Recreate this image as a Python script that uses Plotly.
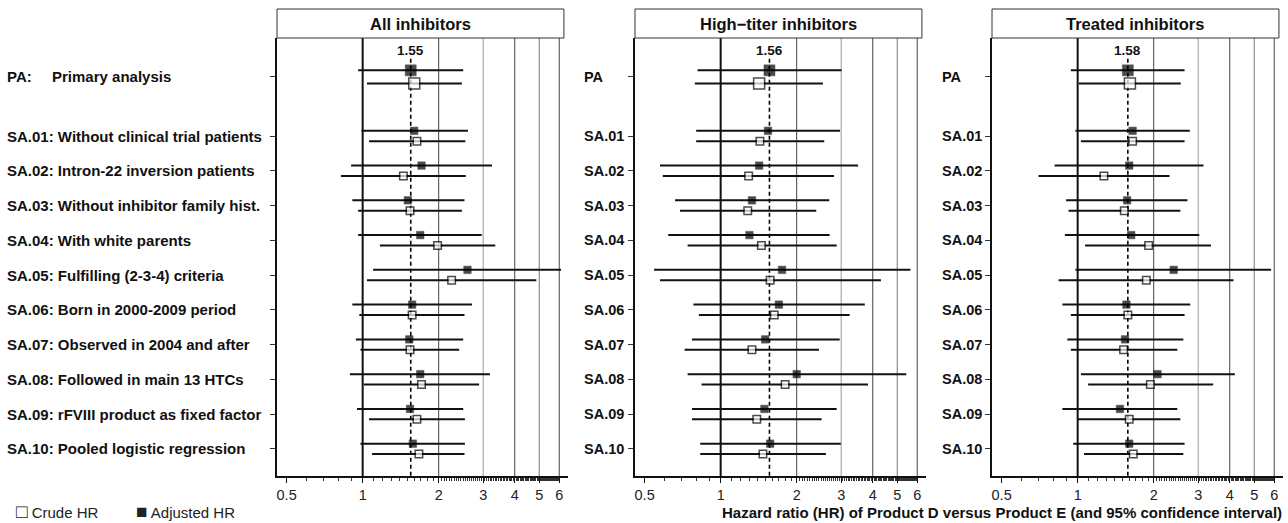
import math
import plotly.graph_objects as go

# ---------------- data ----------------
row_codes = ["PA", "SA.01", "SA.02", "SA.03", "SA.04", "SA.05",
             "SA.06", "SA.07", "SA.08", "SA.09", "SA.10"]
row_texts = ["Primary analysis", "Without clinical trial patients",
             "Intron-22 inversion patients", "Without inhibitor family hist.",
             "With white parents", "Fulfilling (2-3-4) criteria",
             "Born in 2000-2009 period", "Observed in 2004 and after",
             "Followed in main 13 HTCs", "rFVIII product as fixed factor",
             "Pooled logistic regression"]
panel_titles = ["All inhibitors", "High\u2212titer inhibitors", "Treated inhibitors"]
ref_values = [1.55, 1.56, 1.58]

all_adj = [1.55, 1.60, 1.71, 1.51, 1.69, 2.60, 1.57, 1.53, 1.69, 1.54, 1.58]
all_adj_lo = [0.96, 0.99, 0.90, 0.91, 0.96, 1.10, 0.91, 0.94, 0.89, 0.95, 0.98]
all_adj_hi = [2.50, 2.61, 3.25, 2.53, 2.96, 6.10, 2.71, 2.50, 3.19, 2.50, 2.54]
all_crude = [1.60, 1.64, 1.45, 1.54, 1.98, 2.25, 1.57, 1.54, 1.71, 1.64, 1.67]
all_crude_lo = [1.04, 1.06, 0.82, 0.96, 1.17, 1.04, 0.97, 0.98, 1.01, 1.06, 1.09]
all_crude_hi = [2.47, 2.55, 2.56, 2.47, 3.35, 4.87, 2.53, 2.41, 2.89, 2.54, 2.53]

high_adj = [1.56, 1.54, 1.42, 1.33, 1.30, 1.75, 1.70, 1.50, 2.00, 1.49, 1.57]
high_adj_lo = [0.81, 0.80, 0.575, 0.66, 0.62, 0.545, 0.78, 0.77, 0.74, 0.77, 0.83]
high_adj_hi = [3.01, 2.97, 3.50, 2.69, 2.70, 5.64, 3.72, 2.96, 5.43, 2.88, 2.99]
high_crude = [1.42, 1.43, 1.29, 1.28, 1.45, 1.57, 1.63, 1.33, 1.80, 1.39, 1.47]
high_crude_lo = [0.79, 0.80, 0.59, 0.69, 0.74, 0.575, 0.82, 0.72, 0.84, 0.77, 0.83]
high_crude_hi = [2.54, 2.57, 2.81, 2.39, 2.88, 4.31, 3.24, 2.45, 3.83, 2.51, 2.61]

treated_adj = [1.58, 1.65, 1.60, 1.57, 1.63, 2.40, 1.56, 1.54, 2.07, 1.47, 1.60]
treated_adj_lo = [0.94, 0.98, 0.81, 0.90, 0.89, 0.98, 0.87, 0.91, 1.03, 0.87, 0.96]
treated_adj_hi = [2.65, 2.78, 3.15, 2.72, 3.03, 5.83, 2.79, 2.62, 4.19, 2.48, 2.65]
treated_crude = [1.61, 1.65, 1.27, 1.53, 1.91, 1.87, 1.58, 1.52, 1.94, 1.60, 1.66]
treated_crude_lo = [1.01, 1.03, 0.70, 0.92, 1.07, 0.84, 0.94, 0.94, 1.10, 1.00, 1.06]
treated_crude_hi = [2.56, 2.65, 2.31, 2.55, 3.37, 4.14, 2.65, 2.48, 3.44, 2.55, 2.62]

x_tick_vals = [0.5, 1, 2, 3, 4, 5, 6]
x_tick_text = ["0.5", "1", "2", "3", "4", "5", "6"]
grid_vals = [1, 2, 3, 4, 5, 6]
x_title = "Hazard ratio (HR) of Product D versus Product E (and 95% confidence interval)"

# ---------------- layout helpers ----------------
W, H = 1288, 523
FONT = "Liberation Sans, Arial, Helvetica, sans-serif"
row_pos = [-0.7] + list(range(1, 11))
Y_TOP, Y_BOT = -1.82, 10.78
panel_left_px = [277, 635, 992]
panel_w_px = 291
y_dom = [1 - 476 / H, 1 - 38 / H]

panels = [
    (all_adj, all_adj_lo, all_adj_hi, all_crude, all_crude_lo, all_crude_hi),
    (high_adj, high_adj_lo, high_adj_hi, high_crude, high_crude_lo, high_crude_hi),
    (treated_adj, treated_adj_lo, treated_adj_hi, treated_crude, treated_crude_lo, treated_crude_hi),
]

minor_vals = ([round(0.6 + 0.1 * i, 2) for i in range(4)] +
              [round(1.1 + 0.1 * i, 2) for i in range(9)] +
              [round(2.05 + 0.05 * i, 3) for i in range(80)
               if round(2.05 + 0.05 * i, 3) not in (3.0, 4.0, 5.0, 6.0)])

fig = go.Figure()
shapes = []
annotations = []
grid_colors = {1: "#111111", 2: "#444444", 3: "#999999", 4: "#444444", 5: "#777777", 6: "#444444"}

for p, (adj, adj_lo, adj_hi, cr, cr_lo, cr_hi) in enumerate(panels):
    sfx = "" if p == 0 else str(p + 1)
    xa, ya = "x" + sfx, "y" + sfx
    off = [0.19 if i == 0 else 0.15 for i in range(len(row_pos))]
    sizes = [11 if i == 0 else 7.5 for i in range(len(row_pos))]

    # vertical grid lines
    for g in grid_vals:
        shapes.append(dict(type="line", xref=xa, yref=ya + " domain", x0=g, x1=g, y0=0, y1=1,
                           line=dict(color=grid_colors[g], width=2 if g == 1 else 1), layer="below"))
    # reference dashed line
    shapes.append(dict(type="line", xref=xa, yref=ya, x0=ref_values[p], x1=ref_values[p],
                       y0=-1.22, y1=Y_BOT, line=dict(color="black", width=1.6, dash="4px,3px"),
                       layer="below"))
    annotations.append(dict(x=math.log10(ref_values[p]), y=-1.45, xref=xa, yref=ya,
                            text="<b>%.2f</b>" % ref_values[p], showarrow=False,
                            xanchor="center", yanchor="middle",
                            font=dict(size=13.5, color="#111", family=FONT)))

    # crude HR
    fig.add_trace(go.Scatter(
        x=cr, y=[r + o for r, o in zip(row_pos, off)], mode="markers", xaxis=xa, yaxis=ya,
        marker=dict(symbol="square", size=sizes, color="white", line=dict(color="black", width=1.5)),
        error_x=dict(type="data", symmetric=False,
                     array=[h - v for h, v in zip(cr_hi, cr)],
                     arrayminus=[v - l for v, l in zip(cr, cr_lo)],
                     color="#111", thickness=2, width=0),
        showlegend=False, name="Crude HR"))
    # adjusted HR
    fig.add_trace(go.Scatter(
        x=adj, y=[r - o for r, o in zip(row_pos, off)], mode="markers", xaxis=xa, yaxis=ya,
        marker=dict(symbol="square", size=sizes, color="black", line=dict(color="black", width=0.5)),
        error_x=dict(type="data", symmetric=False,
                     array=[h - v for h, v in zip(adj_hi, adj)],
                     arrayminus=[v - l for v, l in zip(adj, adj_lo)],
                     color="#111", thickness=2, width=0),
        showlegend=False, name="Adjusted HR"))

    x0 = panel_left_px[p] / W
    x1 = (panel_left_px[p] + panel_w_px) / W
    fig.update_layout(**{
        ("xaxis" + sfx): dict(
            domain=[x0, x1], type="log", range=[math.log10(0.458), math.log10(6.5)],
            tickvals=x_tick_vals, ticktext=x_tick_text, ticks="outside", ticklen=5,
            tickwidth=1, tickcolor="#111", showgrid=False, zeroline=False,
            showline=True, linecolor="#111", linewidth=2, anchor=ya,
            tickfont=dict(size=14.5, color="#222", family=FONT),
            minor=dict(tickvals=minor_vals, ticks="outside", ticklen=3, tickwidth=1,
                       tickcolor="#333", showgrid=False)),
        ("yaxis" + sfx): dict(
            domain=y_dom, range=[Y_BOT, Y_TOP], tickvals=row_pos, ticks="outside",
            ticklen=5, tickwidth=1, tickcolor="#333", showticklabels=False,
            showgrid=False, zeroline=False, showline=True, linecolor="#111",
            linewidth=2, anchor=xa),
    })

    # header box
    shapes.append(dict(type="rect", xref=xa + " domain", yref="paper", x0=0.0, x1=0.986,
                       y0=1 - 38 / H, y1=1 - 9 / H, line=dict(color="#333", width=1),
                       fillcolor="white"))
    annotations.append(dict(x=(x0 + (x0 + 0.986 * (x1 - x0))) / 2, y=1 - 24 / H,
                            xref="paper", yref="paper", text="<b>%s</b>" % panel_titles[p],
                            showarrow=False, xanchor="center", yanchor="middle",
                            font=dict(size=16.5, color="#111", family=FONT)))

    # row labels
    for i, code in enumerate(row_codes):
        if p == 0:
            if i == 0:
                annotations.append(dict(x=5 / W, y=row_pos[i], xref="paper", yref=ya,
                                        text="<b>PA:</b>", showarrow=False,
                                        xanchor="left", yanchor="middle",
                                        font=dict(size=15, color="#111", family=FONT)))
                annotations.append(dict(x=50 / W, y=row_pos[i], xref="paper", yref=ya,
                                        text="<b>%s</b>" % row_texts[i], showarrow=False,
                                        xanchor="left", yanchor="middle",
                                        font=dict(size=15, color="#111", family=FONT)))
            else:
                annotations.append(dict(x=5 / W, y=row_pos[i], xref="paper", yref=ya,
                                        text="<b>%s: %s</b>" % (code, row_texts[i]),
                                        showarrow=False, xanchor="left", yanchor="middle",
                                        font=dict(size=15, color="#111", family=FONT)))
        else:
            lx = [None, 582, 940][p]
            annotations.append(dict(x=lx / W, y=row_pos[i], xref="paper", yref=ya,
                                    text="<b>%s</b>" % code, showarrow=False,
                                    xanchor="left", yanchor="middle",
                                    font=dict(size=14.5, color="#111", family=FONT)))

# legend and axis title
annotations.append(dict(x=14 / W, y=1 - 511 / H, xref="paper", yref="paper",
                        text="<span style='font-size:19px'>\u25A1</span> Crude HR",
                        showarrow=False, xanchor="left", yanchor="middle",
                        font=dict(size=15, color="#222", family=FONT)))
annotations.append(dict(x=134 / W, y=1 - 511 / H, xref="paper", yref="paper",
                        text="<span style='font-size:19px'>\u25A0</span> Adjusted HR",
                        showarrow=False, xanchor="left", yanchor="middle",
                        font=dict(size=15, color="#222", family=FONT)))
annotations.append(dict(x=1284 / W, y=1 - 512 / H, xref="paper", yref="paper",
                        text="<b>%s</b>" % x_title, showarrow=False,
                        xanchor="right", yanchor="middle",
                        font=dict(size=15, color="#111", family=FONT)))

fig.update_layout(width=W, height=H, autosize=False,
                  margin=dict(l=0, r=0, t=0, b=0),
                  paper_bgcolor="white", plot_bgcolor="white",
                  shapes=shapes, annotations=annotations,
                  font=dict(family=FONT))

fig.write_html("out.html", config={"displayModeBar": False},
               post_script="document.body.style.margin='0px';")
